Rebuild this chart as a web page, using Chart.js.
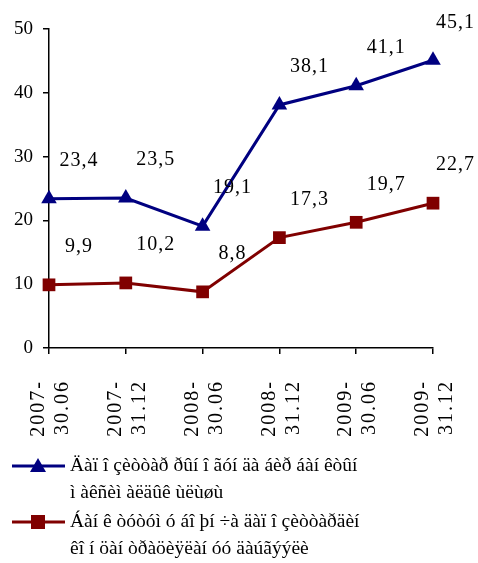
<!DOCTYPE html>
<html>
<head>
<meta charset="utf-8">
<script src="https://cdn.jsdelivr.net/npm/chart.js@4"></script>
<style>
  body { margin: 0; background: #fff; }
  #wrap { width: 478px; height: 563px; position: relative; }
</style>
</head>
<body>
<div id="wrap"><canvas id="depChart"></canvas></div>
<script>
const labels = [['2007-', '30.06'], ['2007-', '31.12'], ['2008-', '30.06'], ['2008-', '31.12'], ['2009-', '30.06'], ['2009-', '31.12']];
const maxShare = [23.4, 23.5, 19.1, 38.1, 41.1, 45.1];
const concentration = [9.9, 10.2, 8.8, 17.3, 19.7, 22.7];
const legendMax = ['Äàï î çèòòàð ðûí î ãóí äà áèð áàí êòûí', 'ì àêñèì àëäûê ùëùøù'];
const legendConc = ['Áàí ê òóòóì ó áî þí ÷à äàï î çèòòàðäèí', 'êî í öàí òðàöèÿëàí óó äàúãýýëè'];

const serif = 'Liberation Serif';

// value labels above-right of each point, comma decimals, kept inside the canvas
const valueLabels = {
  id: 'valueLabels',
  afterDatasetsDraw(chart) {
    const ctx = chart.ctx;
    ctx.save();
    ctx.font = '20px "' + serif + '"';
    ctx.letterSpacing = '1px';
    ctx.fillStyle = '#000';
    ctx.textAlign = 'center';
    ctx.textBaseline = 'middle';
    chart.data.datasets.forEach((ds, i) => {
      chart.getDatasetMeta(i).data.forEach((pt, j) => {
        const txt = ds.data[j].toFixed(1).replace('.', ',');
        const w = ctx.measureText(txt).width;
        const x = Math.min(pt.x + 30, chart.width - w / 2 - 3);
        ctx.fillText(txt, x, pt.y - 38);
      });
    });
    ctx.restore();
  }
};

// rotated two-line category labels, spaced out like the original
const xLabels = {
  id: 'xLabels',
  afterDraw(chart) {
    const ctx = chart.ctx;
    const xs = chart.scales.x;
    ctx.save();
    ctx.font = '20px "' + serif + '"';
    ctx.letterSpacing = '2px';
    ctx.fillStyle = '#000';
    ctx.textAlign = 'right';
    ctx.textBaseline = 'middle';
    chart.data.labels.forEach((lab, i) => {
      const x = xs.getPixelForTick(i);
      lab.forEach((line, k) => {
        ctx.save();
        ctx.translate(x - 10 + k * 24, xs.top + 32);
        ctx.rotate(-Math.PI / 2);
        ctx.fillText(line, 0, 0);
        ctx.restore();
      });
    });
    ctx.restore();
  }
};

// legend: line with marker, two-line text
const lineLegend = {
  id: 'lineLegend',
  afterDraw(chart) {
    const ctx = chart.ctx;
    ctx.save();
    ctx.font = '19.5px "' + serif + '"';
    ctx.textBaseline = 'middle';
    chart.data.datasets.forEach((ds, i) => {
      const y = 466 + i * 56;
      ctx.strokeStyle = ds.borderColor;
      ctx.lineWidth = 3;
      ctx.beginPath();
      ctx.moveTo(12, y);
      ctx.lineTo(65, y);
      ctx.stroke();
      ctx.fillStyle = ds.borderColor;
      if (ds.pointStyle === 'triangle') {
        ctx.beginPath();
        ctx.moveTo(38, y - 8);
        ctx.lineTo(46, y + 6);
        ctx.lineTo(30, y + 6);
        ctx.closePath();
        ctx.fill();
      } else {
        ctx.fillRect(31, y - 7, 14, 14);
      }
      ctx.fillStyle = '#000';
      ds.legendText.forEach((t, k) => ctx.fillText(t, 70, y + k * 27));
    });
    ctx.restore();
  }
};

new Chart(document.getElementById('depChart'), {
  type: 'line',
  data: {
    labels: labels,
    datasets: [{
      label: legendMax.join(' '),
      legendText: legendMax,
      data: maxShare,
      borderColor: '#000080',
      backgroundColor: '#000080',
      borderWidth: 3,
      pointStyle: 'triangle',
      pointRadius: 9,
      pointBorderWidth: 0,
      tension: 0
    }, {
      label: legendConc.join(' '),
      legendText: legendConc,
      data: concentration,
      borderColor: '#800000',
      backgroundColor: '#800000',
      borderWidth: 3,
      pointStyle: 'rect',
      pointRadius: 9,
      pointBorderWidth: 0,
      tension: 0
    }]
  },
  options: {
    responsive: true,
    maintainAspectRatio: false,
    animation: false,
    layout: { padding: { left: 4, right: 45, top: 29, bottom: 209 } },
    plugins: {
      legend: { display: false },
      tooltip: { enabled: false }
    },
    scales: {
      x: {
        offset: false,
        grid: { drawOnChartArea: false, tickLength: 6, color: '#000', lineWidth: 1.5 },
        border: { color: '#000', width: 1.5 },
        ticks: { display: false, autoSkip: false }
      },
      y: {
        min: 0,
        max: 50,
        grid: { drawOnChartArea: false, tickLength: 6, color: '#000', lineWidth: 1.5 },
        border: { color: '#000', width: 1.5 },
        ticks: {
          stepSize: 10,
          color: '#000',
          font: { family: serif, size: 19 },
          padding: 10
        }
      }
    }
  },
  plugins: [valueLabels, xLabels, lineLegend]
});
</script>
</body>
</html>
